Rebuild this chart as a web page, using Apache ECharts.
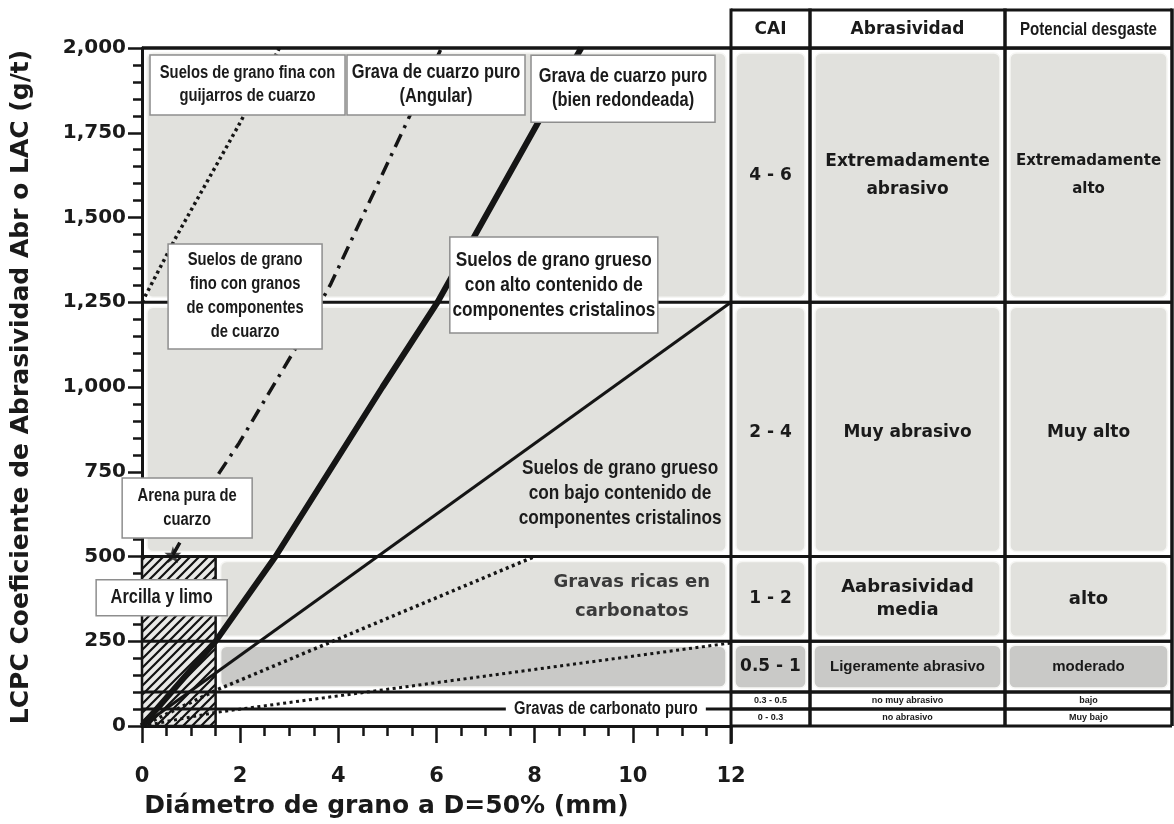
<!DOCTYPE html>
<html><head><meta charset="utf-8">
<script src="https://cdn.jsdelivr.net/npm/echarts@6/dist/echarts.min.js"></script>
<style>html,body{margin:0;padding:0;background:#fff}#c{width:1174px;height:824px}</style>
</head><body><div id="c"></div>
<script>
// ---------------- DATA ----------------
const xTickValues = [0, 2, 4, 6, 8, 10, 12];
const yTickValues = [0, 250, 500, 750, 1000, 1250, 1500, 1750, 2000];
const xAxisTitle = 'Diámetro de grano a D=50% (mm)';
const yAxisTitle = 'LCPC Coeficiente de Abrasividad Abr o LAC (g/t)';

// abrasivity classes (rows of the table / horizontal bands)
const bandLows  = [1250, 500, 250, 100, 50, 0];
const bandHighs = [2000, 1250, 500, 250, 100, 50];
const caiLabels = ['4 - 6', '2 - 4', '1 - 2', '0.5 - 1', '0.3 - 0.5', '0 - 0.3'];
const abrLabels = ['Extremadamente\nabrasivo', 'Muy abrasivo', 'Aabrasividad\nmedia', 'Ligeramente abrasivo', 'no muy abrasivo', 'no abrasivo'];
const potLabels = ['Extremadamente\nalto', 'Muy alto', 'alto', 'moderado', 'bajo', 'Muy bajo'];
const tableHeaders = ['CAI', 'Abrasividad', 'Potencial desgaste'];

// horizontal class limits drawn across the plot
const classLimits = [2000, 1250, 500, 250, 100, 50];

// soil-type lines (x = D50 in mm, y = LAC in g/t)
const lineFinoGuijarros    = [[0, 1250], [0.7, 1444], [2.0, 1780], [2.8, 2000]];
const lineCuarzoAngular    = [[0.63, 505], [1.57, 746], [1.98, 835], [3.12, 1112], [3.85, 1305], [5.33, 1761], [6.1, 2000]];
const lineCuarzoRedondeada = [[0, 0], [1.5, 250], [2.72, 500], [4.9, 1000], [6.02, 1250], [8.05, 1775], [8.95, 2000]];
const lineGruesoAlto       = [[0, 0], [12, 1250]];
const lineGravasCarbonatos = [[0, 0], [1.5, 105], [8.0, 500]];
const lineCarbonatoPuro    = [[0, 0], [1.5, 40], [12, 245]];
const arenaPuraPoint       = [[0.63, 505]];
const arcillaLimoArea      = [[0, 0, 1.5, 500]];   // x0, y0, x1, y1

// annotation texts and their anchor (data coordinates)
const noteTexts = [
  'Suelos de grano fina con\nguijarros de cuarzo',
  'Grava de cuarzo puro\n(Angular)',
  'Grava de cuarzo puro\n(bien redondeada)',
  'Suelos de grano\nfino con granos\nde componentes\nde cuarzo',
  'Suelos de grano grueso\ncon alto contenido de\ncomponentes cristalinos',
  'Arena pura de\ncuarzo',
  'Arcilla y limo',
  'Suelos de grano grueso\ncon bajo contenido de\ncomponentes cristalinos',
  'Gravas ricas en\ncarbonatos',
  'Gravas de carbonato puro'
];
const noteX = [2.15, 5.99, 9.80, 2.10, 8.39, 0.92, 0.40, 9.74, 9.98, 9.45];
const noteY = [1891, 1891, 1880, 1267, 1301, 643, 378, 687, 380, 50];

// ---------------- LAYOUT / STYLE ----------------
const NARROW = '"Liberation Sans", Arial, sans-serif';
const WIDE = '"DejaVu Sans", sans-serif';
// per-note box: w,h (px), font size, line height, box type, font, scaleX, color
const noteStyle = [
  {w:195, h:60, fs:18, lh:23, box:'b', ff:NARROW, sx:0.82},
  {w:178, h:60, fs:20, lh:24, box:'b', ff:NARROW, sx:0.82},
  {w:184, h:67, fs:20, lh:24, box:'b', ff:NARROW, sx:0.82},
  {w:154, h:105, fs:18, lh:24, box:'b', ff:NARROW, sx:0.82},
  {w:208, h:96, fs:21, lh:25, box:'b', ff:NARROW, sx:0.82},
  {w:130, h:60, fs:18, lh:24, box:'b', ff:NARROW, sx:0.82},
  {w:131, h:36, fs:20, lh:24, box:'b', ff:NARROW, sx:0.82},
  {w:0, h:0, fs:21, lh:25, box:'', ff:NARROW, sx:0.82, color:'#1c1c1c'},
  {w:0, h:0, fs:18, lh:29, box:'', ff:WIDE, sx:1, color:'#3a3a3a'},
  {w:200, h:16, fs:18, lh:18, box:'w', ff:NARROW, sx:0.82}
];
const colEdges = [0, 79, 274, 441];     // table column edges (px units of table grid)
const rowFill = ['#e1e1dd', '#e1e1dd', '#e1e1dd', '#c9c9c7', null, null];
const caiFont = [[17, WIDE, 1], [17, WIDE, 1], [17, WIDE, 1], [17, WIDE, 1], [9, NARROW, 1], [9, NARROW, 1]];
const abrFont = [[17, WIDE, 1, 28], [17, WIDE, 1, 22], [18, WIDE, 1, 23], [15, NARROW, 1, 16], [9, NARROW, 1, 10], [9, NARROW, 1, 10]];
const potFont = [[15, WIDE, 1, 28], [17, WIDE, 1, 22], [18, WIDE, 1, 22], [15, NARROW, 1, 16], [9, NARROW, 1, 10], [9, NARROW, 1, 10]];
const INK = '#151515';

// hatch pattern for "Arcilla y limo"
const hatch = document.createElement('canvas');
hatch.width = 9; hatch.height = 9;
(function () {
  const c = hatch.getContext('2d');
  c.fillStyle = '#e9e9e7'; c.fillRect(0, 0, 9, 9);
  c.strokeStyle = '#111'; c.lineWidth = 2.2;
  c.beginPath();
  c.moveTo(-1, 10); c.lineTo(10, -1);
  c.moveTo(-1, 1); c.lineTo(1, -1);
  c.moveTo(8, 10); c.lineTo(10, 8);
  c.stroke();
})();

const chart = echarts.init(document.getElementById('c'), null, {renderer: 'canvas'});

function panelRender(params, api) {
  const x0 = api.value(0), x1 = api.value(1), lo = api.value(2), hi = api.value(3);
  const a = api.coord([x0, hi]), b = api.coord([x1, lo]);
  const ins = 5;
  return {type: 'rect', shape: {x: a[0] + ins, y: a[1] + ins, width: b[0] - a[0] - 2 * ins, height: b[1] - a[1] - 2 * ins, r: 6},
    style: {fill: api.value(4) ? '#c9c9c7' : '#e1e1dd', stroke: '#f6f6f4', lineWidth: 1.5}};
}

function hatchRender(params, api) {
  const a = api.coord([api.value(0), api.value(3)]), b = api.coord([api.value(2), api.value(1)]);
  return {type: 'rect', shape: {x: a[0], y: a[1], width: b[0] - a[0], height: b[1] - a[1]},
    style: {fill: {image: hatch, repeat: 'repeat'}, stroke: INK, lineWidth: 2.5}};
}

function limitRender(params, api) {
  const v = api.value(0);
  const a = api.coord([0, v]), b = api.coord([12, v]);
  return {type: 'line', shape: {x1: a[0], y1: a[1], x2: b[0], y2: b[1]}, style: {stroke: INK, lineWidth: v === 2000 ? 3.5 : 3}};
}

function noteRender(params, api) {
  const i = params.dataIndex;
  const c = api.coord([api.value(0), api.value(1)]);
  const s = noteStyle[i];
  const children = [];
  if (s.box === 'b') children.push({type: 'rect', shape: {x: c[0] - s.w / 2, y: c[1] - s.h / 2, width: s.w, height: s.h},
    style: {fill: '#ffffff', stroke: '#8e8e8e', lineWidth: 1.5}});
  if (s.box === 'w') children.push({type: 'rect', shape: {x: c[0] - s.w / 2, y: c[1] - s.h / 2, width: s.w, height: s.h},
    style: {fill: '#ffffff'}});
  children.push({type: 'text', x: c[0], y: c[1], scaleX: s.sx,
    style: {text: noteTexts[i], font: `bold ${s.fs}px ${s.ff}`, fill: s.color || '#1a1a1a', align: 'center', verticalAlign: 'middle', lineHeight: s.lh}});
  return {type: 'group', children};
}

function tableRowRender(params, api) {
  const i = params.dataIndex;
  const lo = api.value(0), hi = api.value(1);
  const yt = api.coord([0, hi])[1], yb = api.coord([0, lo])[1];
  const xs = colEdges.map(e => api.coord([e, 0])[0]);
  const children = [];
  const texts = [caiLabels[i], abrLabels[i], potLabels[i]];
  const fonts = [caiFont[i], abrFont[i], potFont[i]];
  for (let j = 0; j < 3; j++) {
    if (rowFill[i]) {
      const ins = i === 3 ? 4 : 5;
      children.push({type: 'rect', shape: {x: xs[j] + ins, y: yt + ins, width: xs[j + 1] - xs[j] - 2 * ins, height: yb - yt - 2 * ins, r: 6},
        style: {fill: rowFill[i], stroke: '#f6f6f4', lineWidth: 1.5}});
    }
    const f = fonts[j];
    children.push({type: 'text', x: (xs[j] + xs[j + 1]) / 2, y: (yt + yb) / 2 + (i === 1 ? 3 : 0), scaleX: f[2],
      style: {text: texts[j], font: `bold ${f[0]}px ${f[1]}`, fill: '#1a1a1a', align: 'center', verticalAlign: 'middle', lineHeight: f[3] || f[0] + 4}});
  }
  children.push({type: 'line', shape: {x1: xs[0], y1: yb, x2: xs[3], y2: yb}, style: {stroke: INK, lineWidth: 3}});
  children.push({type: 'line', shape: {x1: xs[0], y1: yt, x2: xs[3], y2: yt}, style: {stroke: INK, lineWidth: 3}});
  return {type: 'group', children};
}

function tableFrameRender(params, api) {
  const xs = colEdges.map(e => api.coord([e, 0])[0]);
  const yTop = api.coord([0, 2000])[1];
  const yBot = api.coord([0, 0])[1];
  const yHead = yTop - 38;
  const children = [];
  for (let j = 0; j < 3; j++) {
    children.push({type: 'rect', shape: {x: xs[j], y: yHead, width: xs[j + 1] - xs[j], height: yTop - yHead}, style: {fill: '#fff'}});
    const small = j === 2;
    children.push({type: 'text', x: (xs[j] + xs[j + 1]) / 2, y: (yHead + yTop) / 2 + 1, scaleX: small ? 0.84 : 1,
      style: {text: tableHeaders[j], font: small ? `bold 18px ${NARROW}` : `bold 17px ${WIDE}`, fill: '#1a1a1a', align: 'center', verticalAlign: 'middle'}});
  }
  children.push({type: 'line', shape: {x1: xs[0], y1: yHead, x2: xs[3], y2: yHead}, style: {stroke: INK, lineWidth: 3}});
  children.push({type: 'line', shape: {x1: xs[0], y1: yTop, x2: xs[3], y2: yTop}, style: {stroke: INK, lineWidth: 3.5}});
  for (let j = 0; j < 4; j++) {
    children.push({type: 'line', shape: {x1: xs[j], y1: yHead - 1.5, x2: xs[j], y2: j === 0 ? yBot + 18 : yBot},
      style: {stroke: INK, lineWidth: j === 0 ? 3 : 3.5}});
  }
  return {type: 'group', children};
}

const dottedStyle = (w) => ({color: INK, width: w, type: [3, 3.5], cap: 'butt'});

const option = {
  animation: false,
  backgroundColor: '#ffffff',
  grid: [
    {left: 142, top: 48, width: 589, height: 678, containLabel: false, outerBoundsMode: 'none'},
    {left: 731, top: 48, width: 441, height: 678, containLabel: false, outerBoundsMode: 'none'}
  ],
  xAxis: [
    {gridIndex: 0, type: 'value', min: 0, max: 12, interval: 2,
      axisLine: {show: true, onZero: false, lineStyle: {color: INK, width: 3}},
      axisTick: {show: true, length: 17, lineStyle: {color: INK, width: 2.5}},
      minorTick: {show: true, splitNumber: 4, length: 10, lineStyle: {color: INK, width: 2.5}},
      splitLine: {show: false}, minorSplitLine: {show: false},
      axisLabel: {margin: 40, color: '#1a1a1a', fontFamily: WIDE, fontWeight: 'bold', fontSize: 21,
        formatter: v => xTickValues.includes(v) ? String(v) : ''},
      name: xAxisTitle, nameLocation: 'middle', nameGap: 68,
      nameTextStyle: {color: '#1a1a1a', fontFamily: WIDE, fontWeight: 'bold', fontSize: 25, padding: [0, 100, 0, 0]}},
    {gridIndex: 1, type: 'value', min: 0, max: 441, show: false}
  ],
  yAxis: [
    {gridIndex: 0, type: 'value', min: 0, max: 2000, interval: 250,
      axisLine: {show: true, onZero: false, lineStyle: {color: INK, width: 3}},
      axisTick: {show: true, length: 14, lineStyle: {color: INK, width: 2.5}},
      minorTick: {show: true, splitNumber: 5, length: 9, lineStyle: {color: INK, width: 2.5}},
      splitLine: {show: false}, minorSplitLine: {show: false},
      axisLabel: {margin: 16, color: '#1a1a1a', fontFamily: WIDE, fontWeight: 'bold', fontSize: 20,
        formatter: v => yTickValues.includes(v) ? v.toLocaleString('en-US') : ''},
      name: yAxisTitle, nameLocation: 'middle', nameGap: 108, nameRotate: 90,
      nameTextStyle: {color: '#1a1a1a', fontFamily: WIDE, fontWeight: 'bold', fontSize: 25}},
    {gridIndex: 1, type: 'value', min: 0, max: 2000, show: false}
  ],
  series: [
    {type: 'custom', name: 'panels', xAxisIndex: 0, yAxisIndex: 0, z: 1, silent: true,
      data: [[0, 12, 1250, 2000, 0], [0, 12, 500, 1250, 0], [1.5, 12, 250, 500, 0], [1.5, 12, 100, 250, 1]],
      renderItem: panelRender},
    {type: 'custom', name: 'Arcilla y limo', xAxisIndex: 0, yAxisIndex: 0, z: 2, silent: true,
      data: arcillaLimoArea, renderItem: hatchRender},
    {type: 'custom', name: 'limits', xAxisIndex: 0, yAxisIndex: 0, z: 3, silent: true,
      data: classLimits.map(v => [v]), renderItem: limitRender},
    {type: 'line', name: 'fino guijarros', data: lineFinoGuijarros, showSymbol: false, z: 4, lineStyle: dottedStyle(3.5)},
    {type: 'line', name: 'cuarzo angular', data: lineCuarzoAngular, showSymbol: false, z: 4,
      lineStyle: {color: INK, width: 3.5, type: [14, 7, 3, 7], cap: 'butt'}},
    {type: 'line', name: 'cuarzo redondeada', data: lineCuarzoRedondeada, showSymbol: false, z: 4, lineStyle: {color: INK, width: 6}},
    {type: 'line', name: 'grueso alto', data: lineGruesoAlto, showSymbol: false, z: 4, lineStyle: {color: INK, width: 3}},
    {type: 'line', name: 'gravas carbonatos', data: lineGravasCarbonatos, showSymbol: false, z: 4, lineStyle: dottedStyle(3.5)},
    {type: 'line', name: 'carbonato puro', data: lineCarbonatoPuro, showSymbol: false, z: 4, lineStyle: dottedStyle(3)},
    {type: 'scatter', name: 'arena pura', data: arenaPuraPoint, z: 5, symbolSize: 17,
      symbol: 'path://M50,0 L61,35 L98,35 L68,57 L79,91 L50,70 L21,91 L32,57 L2,35 L39,35 Z',
      itemStyle: {color: INK}},
    {type: 'custom', name: 'notes', xAxisIndex: 0, yAxisIndex: 0, z: 6, silent: true, clip: false,
      data: noteX.map((x, i) => [x, noteY[i]]), renderItem: noteRender},
    {type: 'custom', name: 'table rows', xAxisIndex: 1, yAxisIndex: 1, z: 2, silent: true, clip: false,
      data: bandLows.map((lo, i) => [lo, bandHighs[i]]), renderItem: tableRowRender},
    {type: 'custom', name: 'table frame', xAxisIndex: 1, yAxisIndex: 1, z: 3, silent: true, clip: false,
      data: [[0, 0]], renderItem: tableFrameRender}
  ]
};
chart.setOption(option);
</script>
</body></html>
